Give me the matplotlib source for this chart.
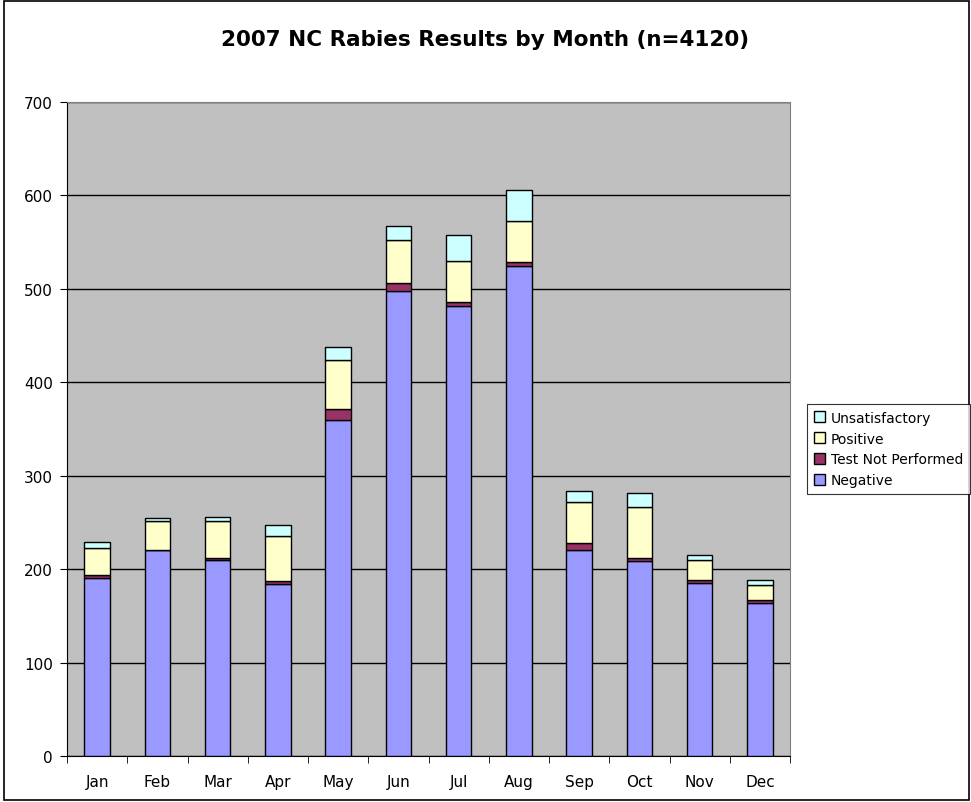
import numpy as np
import matplotlib.pyplot as plt
from matplotlib.patches import Rectangle

# === DATA ===
months = ['Jan', 'Feb', 'Mar', 'Apr', 'May', 'Jun', 'Jul', 'Aug', 'Sep', 'Oct', 'Nov', 'Dec']
negative = [191, 220, 210, 184, 360, 498, 482, 524, 221, 209, 185, 164]
not_performed = [3, 1, 2, 3, 11, 8, 4, 5, 7, 3, 3, 3]
positive = [29, 31, 40, 49, 53, 46, 44, 44, 44, 54, 22, 16]
unsatisfactory = [6, 3, 4, 11, 14, 15, 28, 33, 12, 15, 5, 5]

series = [
    ('Negative', negative, '#9999FF'),
    ('Test Not Performed', not_performed, '#993366'),
    ('Positive', positive, '#FFFFCC'),
    ('Unsatisfactory', unsatisfactory, '#CCFFFF'),
]

plt.rcParams['font.family'] = 'DejaVu Sans'

fig = plt.figure(figsize=(9.71, 8.03), dpi=100)
fig.patch.set_facecolor('white')
ax = fig.add_axes([0.069, 0.0573, 0.7446, 0.8144])
ax.set_facecolor('#C0C0C0')

x = np.arange(len(months))
bottom = np.zeros(len(months))
handles = []
for name, vals, color in series:
    b = ax.bar(x, vals, width=0.42, bottom=bottom, color=color,
               edgecolor='black', linewidth=1.0, label=name, zorder=3)
    handles.append(b)
    bottom += np.array(vals)

ax.set_xlim(-0.5, len(months) - 0.5)
ax.set_ylim(0, 700)
ax.set_yticks(range(0, 701, 100))
ax.yaxis.grid(True, color='black', linewidth=1.0, zorder=1)
ax.set_axisbelow(True)

# category labels centered, tick marks between categories
ax.set_xticks(x)
ax.set_xticklabels(months, fontsize=11)
ax.set_xticks(np.arange(-0.5, len(months), 1), minor=True)
ax.tick_params(axis='x', which='major', length=0, pad=13)
ax.tick_params(axis='x', which='minor', length=5, direction='out', color='black')
ax.tick_params(axis='y', length=5, direction='out', labelsize=11, pad=5)

for side in ['top', 'right']:
    ax.spines[side].set_color('#808080')
for side in ['left', 'bottom']:
    ax.spines[side].set_color('black')

fig.text(0.5, 0.95, '2007 NC Rabies Results by Month (n=4120)',
         ha='center', va='center', fontsize=15.5, fontweight='bold')

leg = fig.legend(handles[::-1], [s[0] for s in series][::-1],
                 loc='center left', bbox_to_anchor=(0.824, 0.4396),
                 fontsize=10, frameon=True, fancybox=False, edgecolor='black',
                 handlelength=0.8, handleheight=0.8, handletextpad=0.4,
                 borderpad=0.5, labelspacing=0.5)
leg.get_frame().set_linewidth(0.8)

# outer chart border
fig.add_artist(Rectangle((0.004, 0.002), 0.994, 0.995, transform=fig.transFigure,
                         fill=False, edgecolor='black', linewidth=1.2))

plt.savefig('out.png', dpi=100)
